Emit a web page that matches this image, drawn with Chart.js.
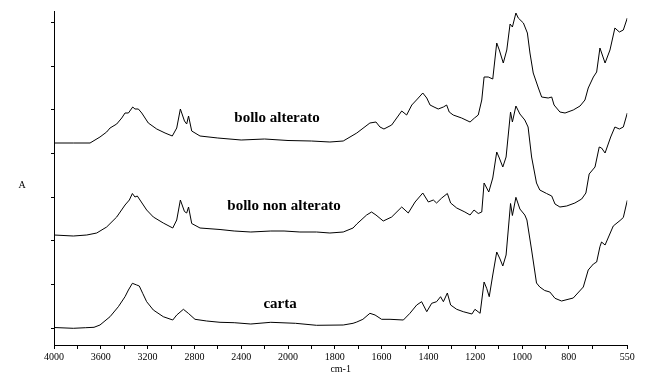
<!DOCTYPE html>
<html>
<head>
<meta charset="utf-8">
<script src="https://cdn.jsdelivr.net/npm/chart.js@4.4.1/dist/chart.umd.min.js"></script>
<style>
html,body{margin:0;padding:0;background:#fff;}
#wrap{width:650px;height:376px;}
</style>
</head>
<body>
<div id="wrap"><canvas id="c" width="650" height="376"></canvas></div>
<script>
// ---- Data (wavenumber cm-1 / absorbance, arbitrary offset units) ----
const altWn = [4000,3835,3692,3607,3550,3521,3464,3421,3393,3364,3327,3308,3279,3250,3194,3122,3051,2989,2951,2920,2885,2866,2850,2823,2752,2600,2400,2200,2000,1900,1821,1764,1706,1650,1624,1607,1590,1557,1514,1493,1471,1447,1424,1407,1393,1376,1358,1336,1322,1311,1294,1258,1222,1203,1187,1172,1162,1144,1125,1108,1097,1080,1065,1051,1041,1026,1016,994,977,966,952,930,916,888,873,863,838,816,781,752,731,717,695,681,667,645,624,603,584,567,550];
const altA  = [2.02,2.02,2.02,2.08,2.13,2.17,2.21,2.27,2.32,2.32,2.38,2.36,2.36,2.32,2.22,2.16,2.12,2.09,2.17,2.36,2.24,2.21,2.29,2.14,2.09,2.07,2.05,2.06,2.045,2.04,2.03,2.04,2.12,2.22,2.23,2.18,2.16,2.20,2.34,2.30,2.40,2.46,2.52,2.47,2.40,2.38,2.36,2.38,2.40,2.33,2.30,2.27,2.23,2.27,2.30,2.45,2.68,2.68,2.66,3.02,2.95,2.82,2.95,3.21,3.18,3.32,3.27,3.22,3.12,2.92,2.72,2.57,2.48,2.47,2.48,2.40,2.33,2.32,2.35,2.39,2.45,2.57,2.68,2.73,2.97,2.82,2.95,3.17,3.13,3.15,3.27];

const nonWn = [4000,3835,3720,3635,3550,3464,3393,3356,3330,3308,3288,3265,3208,3151,3066,2985,2951,2920,2885,2866,2850,2823,2752,2581,2460,2318,2147,2034,1949,1878,1821,1764,1722,1706,1664,1643,1624,1593,1557,1514,1486,1457,1424,1400,1379,1365,1343,1319,1305,1279,1244,1222,1205,1187,1172,1162,1142,1125,1108,1097,1082,1068,1049,1041,1026,1009,988,974,959,938,924,895,873,859,838,809,774,745,727,713,688,670,660,645,621,603,584,567,550];
const nonA  = [1.10,1.09,1.10,1.12,1.18,1.28,1.40,1.45,1.515,1.48,1.49,1.45,1.35,1.28,1.22,1.17,1.25,1.45,1.335,1.32,1.38,1.215,1.17,1.155,1.14,1.13,1.14,1.14,1.13,1.13,1.12,1.13,1.17,1.21,1.30,1.33,1.30,1.24,1.28,1.38,1.32,1.43,1.52,1.43,1.45,1.42,1.47,1.515,1.42,1.37,1.33,1.30,1.35,1.315,1.33,1.62,1.53,1.67,1.93,1.87,1.78,1.88,2.33,2.23,2.39,2.31,2.25,2.18,1.88,1.62,1.55,1.515,1.49,1.41,1.38,1.39,1.42,1.46,1.52,1.71,1.78,1.98,1.97,1.92,2.08,2.18,2.16,2.18,2.32];

const cartaWn = [4000,3835,3729,3658,3607,3521,3450,3393,3364,3330,3293,3271,3242,3208,3151,3066,2985,2951,2894,2852,2795,2695,2581,2460,2318,2147,1968,1878,1764,1722,1706,1680,1650,1628,1600,1564,1507,1479,1450,1429,1407,1386,1365,1348,1336,1319,1305,1279,1251,1214,1201,1179,1162,1151,1140,1125,1108,1094,1082,1068,1049,1041,1026,1009,988,979,959,938,924,903,881,859,831,781,738,717,695,681,667,660,645,610,581,567,550];
const cartaA  = [0.175,0.167,0.173,0.177,0.20,0.283,0.383,0.483,0.55,0.617,0.60,0.59,0.517,0.433,0.35,0.283,0.25,0.30,0.357,0.317,0.257,0.24,0.227,0.223,0.21,0.227,0.217,0.197,0.20,0.217,0.23,0.257,0.317,0.30,0.257,0.257,0.25,0.317,0.40,0.433,0.333,0.417,0.433,0.483,0.433,0.52,0.40,0.357,0.333,0.31,0.357,0.317,0.63,0.567,0.483,0.70,0.93,0.86,0.79,0.90,1.415,1.295,1.477,1.36,1.30,1.25,0.95,0.62,0.58,0.545,0.53,0.467,0.44,0.47,0.58,0.75,0.81,0.83,0.983,1.03,1.00,1.19,1.245,1.275,1.447];

// tick labels (x) and tick values
const xMajorTicks = [4000,3600,3200,2800,2400,2000,1800,1600,1400,1200,1000,800,550];
const xMinorTicks = [3800,3400,3000,2600,2200,1900,1700,1500,1300,1100,900,700];
const yTicks = [0.167,0.607,1.043,1.477,1.917,2.35,2.786,3.223];

// curve labels: text, wavenumber anchor, absorbance anchor (baseline)
const labelTexts = ['bollo alterato','bollo non alterato','carta'];
const labelWn = [2094,2034,2068];
const labelA = [2.233,1.355,0.37];

// ---- axis transform: scale expanded 2x below 2000 cm-1 ----
function toPos(w){ return w >= 2000 ? (4000 - w) / 400 : 5 + (2000 - w) / 200; }
function fromPos(u){ return Math.round(u <= 5 ? 4000 - 400 * u : 2000 - 200 * (u - 5)); }
function pts(wn, a){ return wn.map((w,i)=>({x: toPos(w), y: a[i]})); }

const FONT = '"Liberation Serif", "Times New Roman", serif';

const labelPlugin = {
  id: 'curveLabels',
  afterDraw(chart){
    const ctx = chart.ctx, xs = chart.scales.x, ys = chart.scales.y;
    ctx.save();
    ctx.fillStyle = '#000';
    ctx.font = 'bold 15px ' + FONT;
    ctx.textAlign = 'center';
    ctx.textBaseline = 'alphabetic';
    labelTexts.forEach((t,i)=>{
      ctx.fillText(t, xs.getPixelForValue(toPos(labelWn[i])), ys.getPixelForValue(labelA[i]));
    });
    ctx.font = '10px ' + FONT;
    ctx.textBaseline = 'middle';
    ctx.fillText('A', 22, (ys.top + ys.bottom) / 2 + 7);
    ctx.restore();
  }
};

const ds = (d)=>({data:d, borderColor:'#000', borderWidth:1, pointRadius:0, tension:0, fill:false});

new Chart(document.getElementById('c').getContext('2d'), {
  type: 'line',
  data: { datasets: [ ds(pts(altWn, altA)), ds(pts(nonWn, nonA)), ds(pts(cartaWn, cartaA)) ] },
  options: {
    responsive: false,
    animation: false,
    devicePixelRatio: 1,
    layout: { padding: { left: 0, right: 22.7, top: 11, bottom: 0 } },
    plugins: { legend: { display: false }, tooltip: { enabled: false } },
    scales: {
      x: {
        type: 'linear', min: toPos(4000), max: toPos(550),
        border: { display: true, color: '#000', width: 1 },
        grid: { display: true, drawOnChartArea: false, drawTicks: true, tickLength: 4, color: '#000' },
        ticks: {
          autoSkip: false, maxRotation: 0, minRotation: 0, padding: 2, color: '#000',
          font: { family: FONT, size: 10 },
          callback: (v)=>{ const w = fromPos(v); return xMajorTicks.includes(w) ? String(w) : ''; }
        },
        afterBuildTicks: (s)=>{ s.ticks = xMajorTicks.concat(xMinorTicks).map(toPos).sort((a,b)=>a-b).map(v=>({value:v})); },
        afterFit: (s)=>{ s.height = 31; },
        title: { display: true, text: 'cm-1', color: '#000', font: { family: FONT, size: 10 }, padding: { top: 0, bottom: 1 } }
      },
      y: {
        type: 'linear', min: 0, max: 3.34,
        border: { display: true, color: '#000', width: 1 },
        grid: { display: true, drawOnChartArea: false, drawTicks: true, tickLength: 3, color: '#000' },
        ticks: { display: false },
        afterBuildTicks: (s)=>{ s.ticks = yTicks.map(v=>({value:v})); },
        afterFit: (s)=>{ s.width = 54; }
      }
    }
  },
  plugins: [labelPlugin]
});
</script>
</body>
</html>
